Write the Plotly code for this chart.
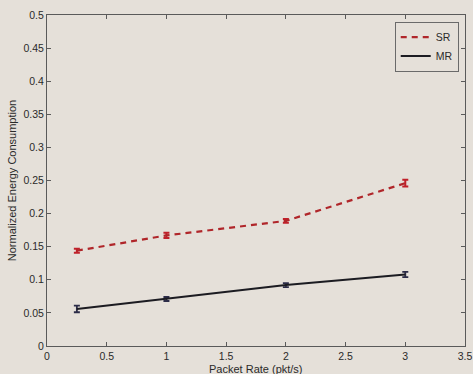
import plotly.graph_objects as go

# Packet rates (pkt/s) and normalized energy consumption per scheme
packet_rate = [0.25, 1, 2, 3]
sr_energy = [0.144, 0.167, 0.189, 0.246]
sr_err = [0.003, 0.004, 0.003, 0.005]
mr_energy = [0.056, 0.071, 0.092, 0.108]
mr_err = [0.005, 0.003, 0.003, 0.004]

x_ticks = [0, 0.5, 1, 1.5, 2, 2.5, 3, 3.5]
x_tick_text = ["0", "0.5", "1", "1.5", "2", "2.5", "3", "3.5"]
y_ticks = [0, 0.05, 0.1, 0.15, 0.2, 0.25, 0.3, 0.35, 0.4, 0.45, 0.5]
y_tick_text = ["0", "0.05", "0.1", "0.15", "0.2", "0.25", "0.3", "0.35", "0.4", "0.45", "0.5"]

bg = "#e5e0d9"
axis_col = "#5a5a5a"
text_col = "#2a2a2a"
font = "Liberation Sans, Arial, sans-serif"

fig = go.Figure()
fig.add_trace(go.Scatter(
    x=packet_rate, y=sr_energy, name="SR", mode="lines",
    line=dict(color="#b0262a", width=2.2, dash="6px,5px"),
    error_y=dict(type="data", array=sr_err, color="#c0202a", thickness=2, width=3),
))
fig.add_trace(go.Scatter(
    x=packet_rate, y=mr_energy, name="MR", mode="lines",
    line=dict(color="#1c1c22", width=2),
    error_y=dict(type="data", array=mr_err, color="#2c2c48", thickness=1.8, width=3),
))

axis_common = dict(
    showgrid=False, zeroline=False, showline=True, linecolor=axis_col, linewidth=1,
    mirror="ticks", ticks="inside", ticklen=4, tickcolor=axis_col, automargin=False,
    tickfont=dict(family=font, size=10.5, color=text_col),
)

fig.update_layout(
    width=473, height=374,
    paper_bgcolor=bg, plot_bgcolor=bg,
    margin=dict(l=47, r=8, t=15, b=28),
    showlegend=True,
    legend=dict(
        x=0.985, y=0.98, xanchor="right", yanchor="top",
        bgcolor=bg, bordercolor="#6a6a6a", borderwidth=1,
        font=dict(family=font, size=10.5, color=text_col),
        itemwidth=30, tracegroupgap=0,
    ),
    xaxis=dict(range=[0, 3.5], tickvals=x_ticks, ticktext=x_tick_text, **axis_common),
    yaxis=dict(
        range=[0, 0.5], tickvals=y_ticks, ticktext=y_tick_text,
        title=dict(text="Normalized Energy Consumption", standoff=4,
                   font=dict(family=font, size=11, color=text_col)),
        **axis_common,
    ),
)

# x-axis title placed as an annotation so it sits snugly under the tick labels
fig.add_annotation(
    text="Packet Rate (pkt/s)", xref="paper", yref="paper",
    x=0.5, y=-0.068, xanchor="center", yanchor="middle", showarrow=False,
    font=dict(family=font, size=11, color=text_col),
)

fig.write_html("out.html")
